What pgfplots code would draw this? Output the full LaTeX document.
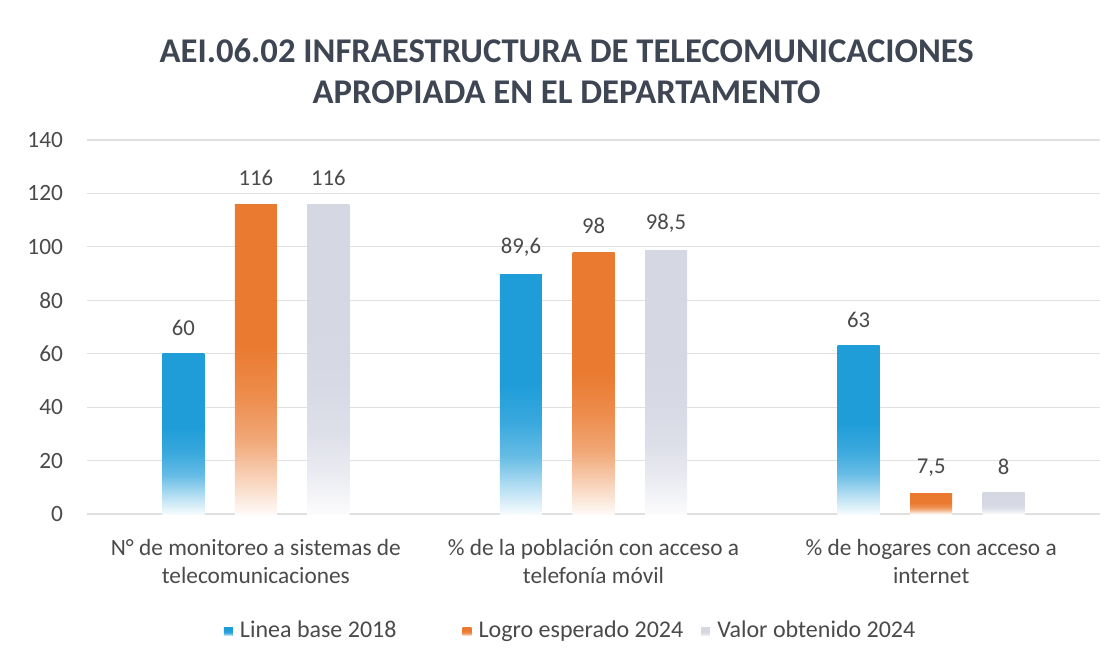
\documentclass[border=0pt]{standalone}
\usepackage{pgfplots}
\pgfplotsset{compat=1.18}
\usepackage{fontspec}
\setmainfont{Carlito}
\definecolor{cblue}{HTML}{1F9DD9}
\definecolor{corange}{HTML}{EA7A30}
\definecolor{cgray}{HTML}{D5D7E3}
\definecolor{ctext}{HTML}{4A4A4A}
\definecolor{ctitle}{HTML}{3E4653}
\definecolor{cgrid}{HTML}{E0E0E0}
\pgfdeclareverticalshading{sblue}{100bp}{color(0bp)=(cblue!4!white); color(25bp)=(cblue!4!white); color(31bp)=(cblue!35!white); color(37bp)=(cblue!68!white); color(44bp)=(cblue!88!white); color(52bp)=(cblue); color(100bp)=(cblue)}
\pgfdeclareverticalshading{sorange}{100bp}{color(0bp)=(corange!4!white); color(25bp)=(corange!4!white); color(31bp)=(corange!35!white); color(37bp)=(corange!66!white); color(44bp)=(corange!86!white); color(52bp)=(corange); color(100bp)=(corange)}
\pgfdeclareverticalshading{sgray}{100bp}{color(0bp)=(cgray!8!white); color(25bp)=(cgray!8!white); color(31bp)=(cgray!45!white); color(38bp)=(cgray!80!white); color(46bp)=(cgray!95!white); color(55bp)=(cgray); color(100bp)=(cgray)}
\pgfplotsset{
  bblue/.style={draw=none, shading=sblue, bar shift=-54.4pt},
  borange/.style={draw=none, shading=sorange, bar shift=0pt},
  bgray/.style={draw=none, shading=sgray, bar shift=54.4pt},
}
\begin{document}
\begin{tikzpicture}
\path[use as bounding box, fill=white] (0,0) rectangle (840pt,498pt);
\node[font=\fontsize{26}{30.5}\selectfont\bfseries, text=ctitle, align=center] at (425pt,444.5pt)
  {AEI.06.02 INFRAESTRUCTURA DE TELECOMUNICACIONES\\APROPIADA EN EL DEPARTAMENTO};
\begin{axis}[
  at={(65.25pt,112.5pt)}, anchor=south west,
  scale only axis, width=759.75pt, height=280.5pt,
  xmin=-0.5, xmax=2.5, ymin=0, ymax=140,
  ytick={0,20,...,140},
  xtick={0,1,2},
  xticklabels={{N° de monitoreo a sistemas de\\telecomunicaciones},{\% de la población con acceso a\\telefonía móvil},{\% de hogares con acceso a\\internet}},
  xticklabel style={align=center, font=\fontsize{17.5}{21}\selectfont, text=ctext, yshift=-11pt},
  yticklabel style={font=\fontsize{17.5}{20}\selectfont, text=ctext, xshift=-14.5pt},
  /pgf/number format/assume math mode=true,
  axis line style={draw=none},
  tick style={draw=none},
  ymajorgrids, grid style={cgrid, line width=0.8pt},
  ybar, bar width=31.5pt,
  nodes near coords={\pgfmathprintnumber[use comma,fixed,precision=1]{\pgfplotspointmeta}},
  nodes near coords style={font=\fontsize{17}{20}\selectfont, text=ctext, yshift=10pt},
  legend columns=3,
  legend style={at={(0.131,-0.31)}, anchor=west, draw=none, fill=none,
    font=\fontsize{18}{20}\selectfont, text=ctext,
    /tikz/every even column/.append style={column sep=0pt}},
]
\addplot[bblue, legend image code/.code={\fill[cblue] (0pt,-4.5pt) rectangle (6.5pt,2pt); \path (10pt,0pt);}]
  coordinates {(0,60)};
\addplot[borange, legend image code/.code={\fill[corange] (0pt,-4.5pt) rectangle (6.5pt,2pt); \path (10pt,0pt);}]
  coordinates {(0,116)};
\addplot[bgray, legend image code/.code={\fill[cgray] (0pt,-4.5pt) rectangle (6.5pt,2pt); \path (10pt,0pt);}]
  coordinates {(0,116)};
\addplot[bblue, forget plot] coordinates {(1,89.6)};
\addplot[borange, forget plot] coordinates {(1,98)};
\addplot[bgray, forget plot] coordinates {(1,98.5)};
\addplot[bblue, forget plot] coordinates {(2,63)};
\addplot[borange, forget plot] coordinates {(2,7.5)};
\addplot[bgray, forget plot] coordinates {(2,8)};
\legend{\makebox[165pt][l]{Linea base 2018}, \makebox[165pt][l]{Logro esperado 2024}, Valor obtenido 2024}
\end{axis}
\end{tikzpicture}
\end{document}
